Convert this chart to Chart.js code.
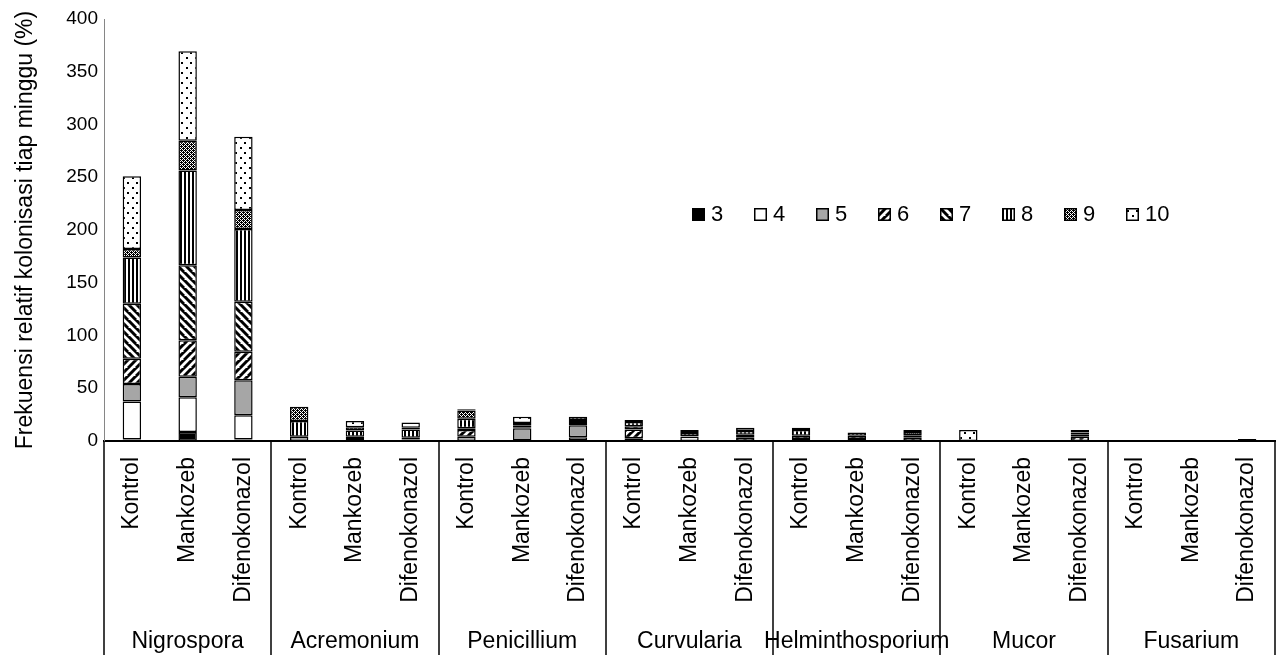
<!doctype html>
<html lang="id">
  <head>
    <meta charset="UTF-8" />
    <title>Frekuensi relatif kolonisasi</title>
    <script src="https://cdn.jsdelivr.net/npm/chart.js"></script>
    <style>
      body {
        margin: 0;
        font-family: "Liberation Sans", Arial, sans-serif;
        background: #fff;
      }
      #wrap {
        position: relative;
        width: 1278px;
        height: 655px;
      }
      #legend {
        position: absolute;
        left: 692px;
        top: 201px;
        display: flex;
        font-size: 22px;
        color: #000;
      }
      .item {
        display: flex;
        align-items: center;
        width: 62px;
      }
      .item canvas {
        margin-right: 6px;
      }
    </style>
  </head>
  <body>
    <div id="wrap">
      <canvas id="chart" width="1278" height="655"></canvas>
      <div id="legend"></div>
    </div>

    <script>
      const fungi = ["Nigrospora", "Acremonium", "Penicillium", "Curvularia", "Helminthosporium", "Mucor", "Fusarium"];
      const treatments = ["Kontrol", "Mankozeb", "Difenokonazol"];
      const weeks = ["3", "4", "5", "6", "7", "8", "9", "10"];

      // one value per bar: Nigrospora K/M/D, Acremonium K/M/D, ... Fusarium K/M/D
      const w3 = [1.5, 8.5, 1.5, 0, 1, 0.5, 0, 0.5, 0.5, 0, 0, 0, 1, 0, 0, 0, 0, 0, 0, 0, 0];
      const w4 = [36, 33, 23, 0, 0, 0, 0, 0, 3, 0, 4, 0, 0, 0, 0, 0, 0, 0, 0, 0, 0];
      const w5 = [16.5, 19.5, 33, 4, 0, 0, 4, 11.5, 11.5, 2.5, 0.5, 0, 0, 0, 0, 0, 0, 0, 0, 0, 0];
      const w6 = [24, 34.5, 27, 0, 1, 1, 6.5, 1, 2, 8.5, 0, 3, 1, 2, 3, 0, 0, 4, 0, 0, 0];
      const w7 = [52, 71, 47.5, 0, 2, 1.5, 1.5, 2, 3, 3, 0, 3, 3, 3, 2.5, 0, 0, 2, 0, 0, 0];
      const w8 = [44, 90, 69, 15, 6, 8, 9, 2, 3, 4, 3, 3.5, 5.5, 3, 0, 0, 0, 2, 0, 0, 2];
      const w9 = [8, 28, 18, 13.5, 3, 1.5, 8, 0, 0, 2, 0, 0, 2, 0, 3, 0, 0, 0, 0, 0, 0];
      const w10 = [69, 85, 69.5, 0, 6, 5, 1, 6, 0, 0, 3, 3, 0, 0, 2, 10.5, 0, 2.5, 0, 0, 0];
      const series = [w3, w4, w5, w6, w7, w8, w9, w10];

      const yTicks = [0, 50, 100, 150, 200, 250, 300, 350, 400];

      const labels = [];
      const groupLabels = [];
      fungi.forEach((f) => {
        treatments.forEach((t, i) => {
          labels.push(t);
          groupLabels.push(i === 1 ? f : "");
        });
      });

      // pattern tiles
      function tile(w, h, draw) {
        const c = document.createElement("canvas");
        c.width = w;
        c.height = h;
        const g = c.getContext("2d");
        g.fillStyle = "#fff";
        g.fillRect(0, 0, w, h);
        g.fillStyle = "#000";
        g.strokeStyle = "#000";
        draw(g, w, h);
        return c;
      }

      function diag(up) {
        return tile(8, 8, (g) => {
          g.lineWidth = 3;
          for (let k = -8; k <= 16; k += 8) {
            g.beginPath();
            if (up) {
              g.moveTo(k - 8, 8);
              g.lineTo(k + 8, -8);
            } else {
              g.moveTo(k - 8, -8);
              g.lineTo(k + 8, 8);
            }
            g.stroke();
          }
        });
      }

      const tiles = [
        "#000",
        "#fff",
        "#a6a6a6",
        diag(true),
        diag(false),
        tile(4, 1, (g) => g.fillRect(0, 0, 2, 1)),
        tile(4, 4, (g) => {
          for (let x = 0; x < 4; x++)
            for (let y = 0; y < 4; y++)
              if ((x + y) % 2 === 0 || (x === 1 && y === 2) || (x === 3 && y === 0)) g.fillRect(x, y, 1, 1);
        }),
        tile(9, 10, (g) => {
          g.fillRect(1, 2, 2, 2);
          g.fillRect(6, 7, 2, 2);
        }),
      ];

      function fillFor(ctx, t) {
        return typeof t === "string" ? t : ctx.createPattern(t, "repeat");
      }

      const chartCtx = document.getElementById("chart").getContext("2d");

      const datasets = series.map((data, i) => ({
        label: weeks[i],
        data: data,
        backgroundColor: fillFor(chartCtx, tiles[i]),
        borderColor: "#000",
        borderWidth: 1.5,
        borderSkipped: false,
        barPercentage: 0.33,
        categoryPercentage: 1,
      }));

      // vertical separators between the fungus groups
      const separators = {
        id: "separators",
        afterDraw(chart) {
          const x = chart.scales.x;
          const ctx = chart.ctx;
          ctx.save();
          ctx.strokeStyle = "#000";
          ctx.lineWidth = 1.5;
          for (let g = 0; g <= fungi.length; g++) {
            const px = Math.round(x.getPixelForValue(g * 3 - 0.5));
            ctx.beginPath();
            ctx.moveTo(px, chart.chartArea.bottom);
            ctx.lineTo(px, chart.height);
            ctx.stroke();
          }
          ctx.restore();
        },
      };

      function noSidePadding(scale) {
        scale.paddingLeft = 0;
        scale.paddingRight = 0;
      }

      new Chart(chartCtx, {
        type: "bar",
        data: { labels: labels, datasets: datasets },
        plugins: [separators],
        options: {
          responsive: false,
          animation: false,
          layout: { padding: { top: 19, right: 3, left: 0, bottom: 0 } },
          plugins: {
            legend: { display: false },
            tooltip: { enabled: false },
          },
          scales: {
            x: {
              stacked: true,
              weight: 0,
              grid: { display: false, drawTicks: false },
              border: { color: "#000", width: 2 },
              ticks: {
                autoSkip: false,
                minRotation: 90,
                maxRotation: 90,
                padding: 16,
                color: "#000",
                font: { family: "Liberation Sans", size: 23 },
              },
              afterFit(scale) {
                scale.height = 175;
                noSidePadding(scale);
              },
            },
            x2: {
              type: "category",
              labels: groupLabels,
              position: "bottom",
              weight: 1,
              grid: { display: false, drawTicks: false },
              border: { display: false },
              ticks: {
                autoSkip: false,
                maxRotation: 0,
                padding: 12,
                color: "#000",
                font: { family: "Liberation Sans", size: 23 },
              },
              afterFit(scale) {
                scale.height = 39;
                noSidePadding(scale);
              },
            },
            y: {
              stacked: true,
              min: 0,
              max: 400,
              grid: { display: false, drawTicks: false },
              border: { color: "#868686", width: 1 },
              afterBuildTicks(scale) {
                scale.ticks = yTicks.map((v) => ({ value: v }));
              },
              ticks: {
                padding: 6,
                color: "#000",
                font: { family: "Liberation Sans", size: 19 },
              },
              title: {
                display: true,
                text: "Frekuensi relatif kolonisasi tiap minggu (%)",
                color: "#000",
                font: { family: "Liberation Sans", size: 23 },
                padding: { top: 12, bottom: 0 },
              },
              afterFit(scale) {
                scale.width = 104;
              },
            },
          },
        },
      });

      // legend as html, swatches painted with the same fills
      const legend = document.getElementById("legend");
      weeks.forEach((w, i) => {
        const item = document.createElement("div");
        item.className = "item";
        const sw = document.createElement("canvas");
        sw.width = 13;
        sw.height = 13;
        const g = sw.getContext("2d");
        g.fillStyle = fillFor(g, tiles[i]);
        g.fillRect(0, 0, 13, 13);
        g.strokeStyle = "#000";
        g.lineWidth = 1.5;
        g.strokeRect(0.75, 0.75, 11.5, 11.5);
        const txt = document.createElement("span");
        txt.textContent = w;
        item.appendChild(sw);
        item.appendChild(txt);
        legend.appendChild(item);
      });
    </script>
  </body>
</html>
